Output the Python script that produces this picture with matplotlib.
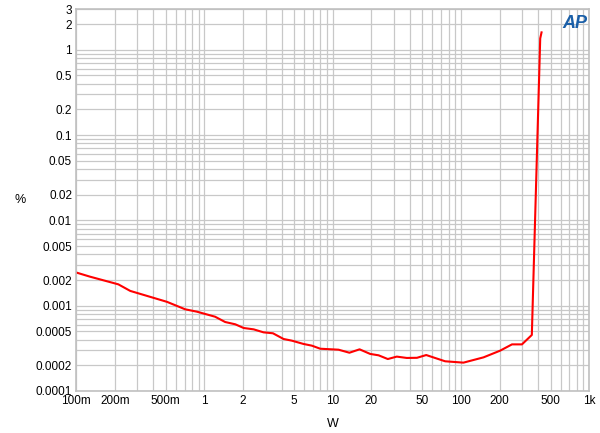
import numpy as np
import matplotlib
matplotlib.use("Agg")
import matplotlib.pyplot as plt
import matplotlib.ticker as ticker

plt.rcParams['font.family'] = ['Liberation Sans', 'DejaVu Sans']

# THD+N (%) vs. output power (W)
power = [0.1, 0.128, 0.213, 0.264, 0.51, 0.708, 0.873, 1.21, 1.45, 1.74, 2.02,
         2.42, 2.89, 3.42, 4.14, 4.81, 5.92, 6.88, 8.0, 11.1, 13.5, 16.2, 19.6,
         22.8, 26.9, 31.6, 37.8, 45.4, 53.6, 75.3, 104.6, 150, 202, 250, 299,
         357, 415, 425]
thd = [0.00245, 0.00219, 0.00178, 0.00149, 0.00111, 0.000907, 0.000851,
       0.000743, 0.000644, 0.000605, 0.000548, 0.000528, 0.000487, 0.000475,
       0.000407, 0.000389, 0.000356, 0.00034, 0.000313, 0.000305, 0.000281,
       0.000308, 0.000272, 0.000262, 0.000237, 0.000253, 0.000244, 0.000245,
       0.000264, 0.000223, 0.000215, 0.000248, 0.000297, 0.000352, 0.000352,
       0.000454, 1.36, 1.6]

x_ticks = [0.1, 0.2, 0.5, 1, 2, 5, 10, 20, 50, 100, 200, 500, 1000]
x_labels = ["100m", "200m", "500m", "1", "2", "5", "10", "20", "50", "100", "200", "500", "1k"]
y_ticks = [0.0001, 0.0002, 0.0005, 0.001, 0.002, 0.005, 0.01, 0.02, 0.05, 0.1, 0.2, 0.5, 1, 2, 3]
y_labels = ["0.0001", "0.0002", "0.0005", "0.001", "0.002", "0.005", "0.01", "0.02",
            "0.05", "0.1", "0.2", "0.5", "1", "2", "3"]

fig = plt.figure(figsize=(6, 4.33), dpi=100)
ax = fig.add_axes([0.127, 0.097, 0.855, 0.882])

ax.plot(power, thd, color='#ff0000', linewidth=1.5)

ax.set_xscale('log')
ax.set_yscale('log')
ax.set_xlim(0.1, 1000)
ax.set_ylim(0.0001, 3)

ax.set_xticks(x_ticks)
ax.set_xticklabels(x_labels)
ax.set_yticks(y_ticks)
ax.set_yticklabels(y_labels)
ax.xaxis.set_minor_locator(ticker.LogLocator(base=10, subs=np.arange(2, 10)))
ax.yaxis.set_minor_locator(ticker.LogLocator(base=10, subs=np.arange(2, 10)))
ax.xaxis.set_minor_formatter(ticker.NullFormatter())
ax.yaxis.set_minor_formatter(ticker.NullFormatter())
ax.tick_params(which='both', length=0, labelsize=8.5, pad=3)

ax.grid(True, which='both', color='#c8c8c8', linewidth=0.9)
ax.set_axisbelow(True)
for s in ax.spines.values():
    s.set_color('#c0c0c0')
    s.set_linewidth(1.2)

ax.set_xlabel('W', fontsize=9, labelpad=8)
ax.set_ylabel('%', fontsize=9, rotation=0, va='center', ha='center')
ax.yaxis.set_label_coords(-0.109, 0.5)

# Audio Precision logo
fig.text(0.958, 0.945, 'AP', color='#1a5fa8', fontsize=13, fontstyle='italic',
         fontweight='bold', ha='center', va='center')

fig.savefig('out.png', dpi=100)
